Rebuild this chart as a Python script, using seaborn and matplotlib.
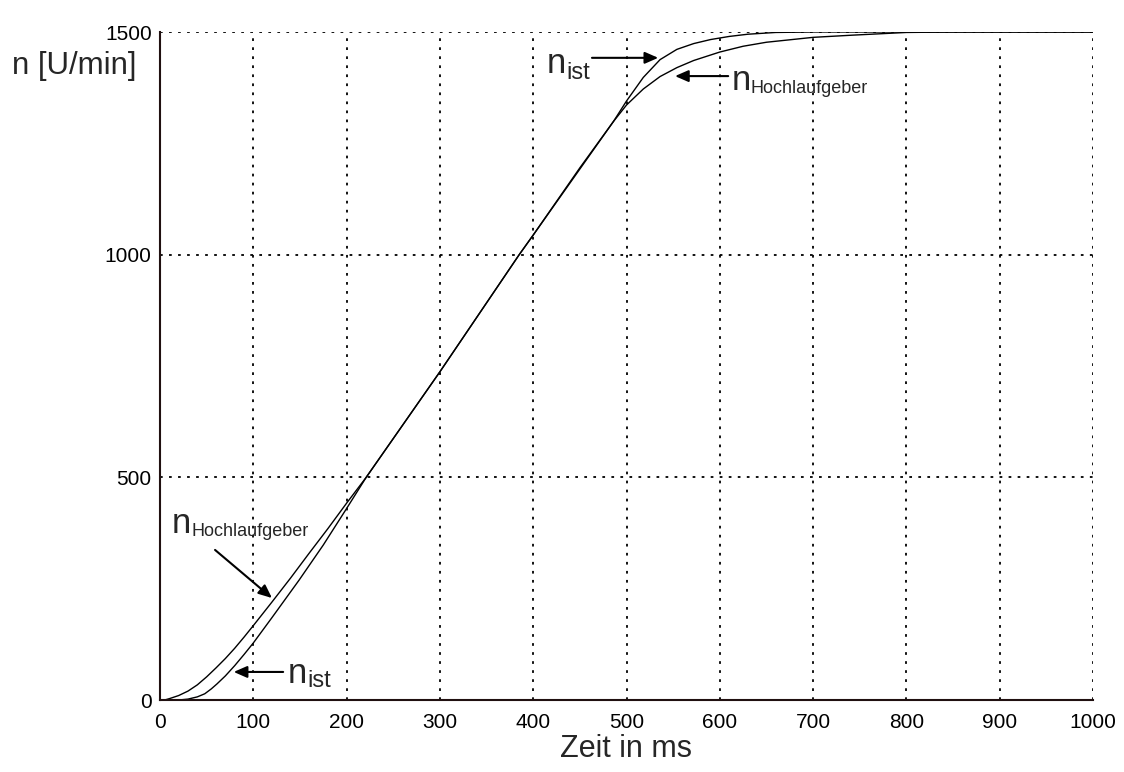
import matplotlib
matplotlib.use("Agg")
import matplotlib.pyplot as plt
import seaborn as sns
import pandas as pd

# ---- data ----
t_hlg = [0, 5, 10, 20, 30, 40, 50, 60, 70, 80, 90, 100, 120, 140, 160, 180, 200, 221, 260, 300,
         385, 400, 450, 486, 500, 518, 536, 554, 572, 600, 625, 650, 700, 743, 800, 850, 1000]
n_hlg = [0, 0, 3, 10, 20, 34, 52, 72, 93, 116, 141, 167, 220, 274, 330, 385, 442, 500, 617, 737,
         1000, 1044, 1195, 1299, 1336, 1372, 1400, 1420, 1436, 1455, 1468, 1477, 1488, 1493, 1499, 1500, 1500]

t_ist = [0, 20, 30, 40, 48, 55, 61, 70, 80, 90, 100, 120, 149, 175, 200, 221, 300, 385, 400, 486,
         500, 518, 536, 554, 572, 590, 610, 630, 660, 700, 1000]
n_ist = [0, 0, 2, 7, 14, 25, 36, 54, 77, 102, 128, 185, 269, 348, 430, 500, 737, 1000, 1044, 1299,
         1345, 1398, 1438, 1461, 1474, 1483, 1490, 1495, 1499, 1500, 1500]

x_ticks = [0, 100, 200, 300, 400, 500, 600, 700, 800, 900, 1000]
y_ticks = [0, 500, 1000, 1500]

sns.set_style("white")
plt.rcParams['font.family'] = ['Liberation Sans', 'DejaVu Sans']

fig = plt.figure(figsize=(11.24, 7.72), dpi=100)
ax = fig.add_axes([160/1124, 1 - 700/772, (1093-160)/1124, (700-32)/772])

df_hlg = pd.DataFrame({"t": t_hlg, "n": n_hlg})
df_ist = pd.DataFrame({"t": t_ist, "n": n_ist})
sns.lineplot(data=df_hlg, x="t", y="n", color="black", linewidth=1.0, ax=ax, sort=False)
sns.lineplot(data=df_ist, x="t", y="n", color="black", linewidth=1.0, ax=ax, sort=False)

ax.set_xlim(0, 1000)
ax.set_ylim(0, 1500)
ax.set_xticks(x_ticks)
ax.set_yticks(y_ticks)
ax.tick_params(axis='both', labelsize=15, direction='in', length=4, width=1, colors='black')
ax.tick_params(axis='x', pad=9)
ax.tick_params(axis='y', pad=6)
ax.grid(True, color='black', linestyle=(0, (1.5, 3.5)), linewidth=1.3)
for s in ['top', 'right']:
    ax.spines[s].set_visible(False)
for s in ['left', 'bottom']:
    ax.spines[s].set_color('#201010')
    ax.spines[s].set_linewidth(1.5)

ax.set_xlabel("Zeit in ms", fontsize=22, labelpad=2)
ax.set_ylabel("")
fig.text(12/1124, 1 - 66/772, "n [U/min]", fontsize=22.5, ha='left', va='center')

# annotations
big, small = 25, 13
arrow = dict(arrowstyle='-|>,head_length=0.8,head_width=0.35', color='black', lw=1.5, shrinkA=0, shrinkB=0)

# lower n_Hochlaufgeber
ax.text(13, 375, "n", fontsize=big, ha='left', va='baseline')
ax.text(34, 368, "Hochlaufgeber", fontsize=small, ha='left', va='baseline')
ax.annotate("", xy=(120, 229), xytext=(59, 337), arrowprops=arrow)

# lower n_ist
ax.text(137, 38, "n", fontsize=big, ha='left', va='baseline')
ax.text(158, 30, "ist", fontsize=small + 4, ha='left', va='baseline')
ax.annotate("", xy=(79, 63), xytext=(132, 63), arrowprops=arrow)

# upper n_ist
ax.text(415, 1408, "n", fontsize=big, ha='left', va='baseline')
ax.text(436, 1395, "ist", fontsize=small + 4, ha='left', va='baseline')
ax.annotate("", xy=(534, 1442), xytext=(463, 1442), arrowprops=arrow)

# upper n_Hochlaufgeber
ax.text(613, 1370, "n", fontsize=big, ha='left', va='baseline')
ax.text(633, 1363, "Hochlaufgeber", fontsize=small, ha='left', va='baseline')
ax.annotate("", xy=(552, 1401), xytext=(609, 1401), arrowprops=arrow)

fig.savefig("out.png", dpi=100)
